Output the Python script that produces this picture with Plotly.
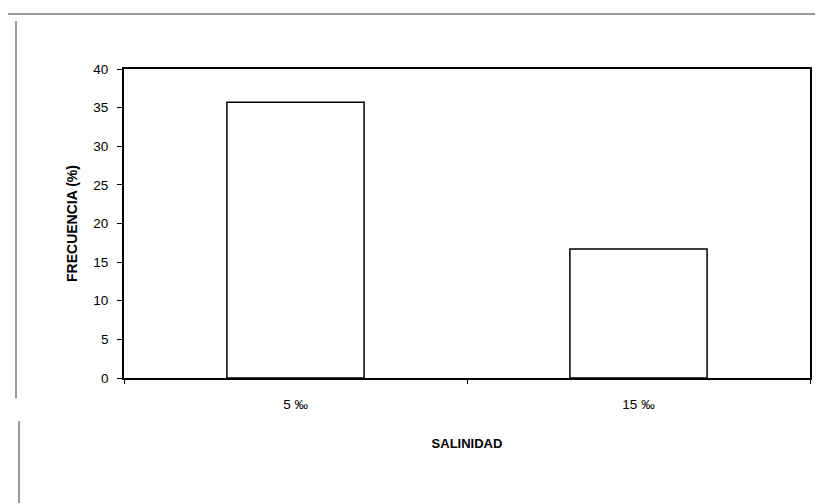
import plotly.graph_objects as go

categories = ["5 ‰", "15 ‰"]
frecuencia = [35.7, 16.7]
y_ticks = [0, 5, 10, 15, 20, 25, 30, 35, 40]

W, H = 823, 504
L, R, T, B = 116, 21, 61, 134
pw, ph = W - L - R, H - T - B

def px(x):
    return (x - L) / pw

def py(y):
    return (H - B - y) / ph

fig = go.Figure(go.Bar(
    x=categories, y=frecuencia,
    marker=dict(color="white", line=dict(color="black", width=1.5)),
    width=0.4,
))

font = "Liberation Sans, Arial, sans-serif"
fig.update_layout(
    width=W, height=H,
    margin=dict(l=L, r=R, t=T, b=B),
    paper_bgcolor="white", plot_bgcolor="white",
    showlegend=False,
    font=dict(family=font, size=13, color="black"),
    xaxis=dict(
        showline=True, linecolor="black", linewidth=1.8, mirror=True,
        ticks="outside", tickson="boundaries", ticklen=4, tickcolor="black",
        ticklabelstandoff=13,
        tickfont=dict(size=13.5),
        showgrid=False,
        title=dict(text="<b>SALINIDAD</b>", font=dict(size=13), standoff=28),
    ),
    yaxis=dict(
        range=[0, 40], tickvals=y_ticks,
        showline=True, linecolor="black", linewidth=1.8, mirror=True,
        ticks="outside", ticklen=5, tickcolor="black",
        ticklabelstandoff=6,
        tickfont=dict(size=13.5),
        showgrid=False, zeroline=False,
        title=dict(text="<b>FRECUENCIA (%)</b>", font=dict(size=14), standoff=12),
    ),
    shapes=[
        dict(type="line", xref="paper", yref="paper",
             x0=px(0), x1=px(W), y0=py(6), y1=py(6),
             line=dict(color="#333", width=1.2)),
        dict(type="line", xref="paper", yref="paper",
             x0=px(8), x1=px(8), y0=py(13), y1=py(390),
             line=dict(color="#333", width=1)),
        dict(type="line", xref="paper", yref="paper",
             x0=px(11), x1=px(11), y0=py(413), y1=py(495),
             line=dict(color="#333", width=1)),
    ],
)

fig.write_html("out.html")
